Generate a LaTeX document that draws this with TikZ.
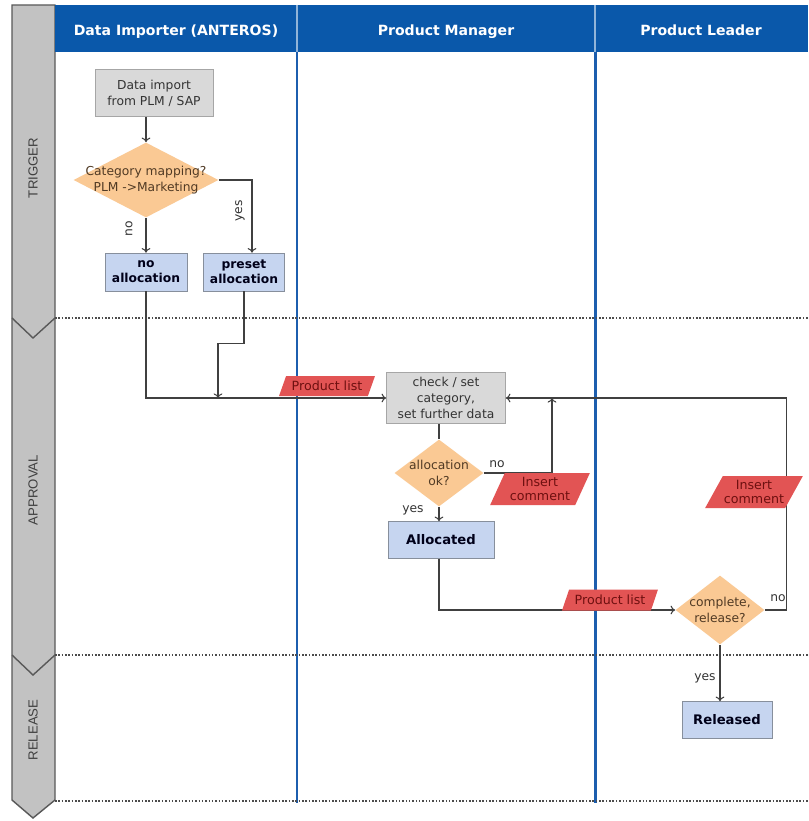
\documentclass[tikz,border=0pt]{standalone}
\usepackage{fontspec}
\setmainfont{DejaVu Sans}
\newfontfamily\fasefont{Liberation Sans}
\usepackage{tikz}
\usetikzlibrary{arrows,arrows.meta,shapes.geometric}

\definecolor{cabecera}{RGB}{10,88,170}
\definecolor{carril}{RGB}{28,94,174}
\definecolor{grisfase}{RGB}{194,194,194}
\definecolor{grisproc}{RGB}{217,217,217}
\definecolor{azulres}{RGB}{198,213,240}
\definecolor{naranja}{RGB}{250,201,148}
\definecolor{rojodato}{RGB}{226,84,84}
\definecolor{textorojo}{RGB}{110,16,16}
\definecolor{textonaranja}{RGB}{80,58,36}

\tikzset{
  procbox/.style={draw=black!35, fill=grisproc, text=black!80, align=center,
    font=\fontsize{7}{9}\selectfont, inner sep=1pt},
  resbox/.style={draw=black!30!azulres!70!gray, fill=azulres, text=black!90!blue, align=center,
    font=\bfseries\fontsize{7}{8.5}\selectfont, inner sep=1pt},
  decision/.style={diamond, fill=naranja, inner sep=0pt,
    label={[align=center, text=textonaranja, font=\fontsize{7}{9}\selectfont]center:#1}},
  datos/.style={trapezium, trapezium left angle=58, trapezium right angle=122,
    trapezium stretches=true, fill=rojodato, text=textorojo, align=center,
    inner sep=0pt, font=\fontsize{7.2}{8}\selectfont},
  flujo/.style={-{To[length=2.6pt,width=5pt]}, draw=black!75, line width=0.6pt},
  rotulo/.style={text=black!80, font=\fontsize{7}{8}\selectfont},
  titulo/.style={text=white, font=\bfseries\fontsize{8}{9}\selectfont,
    text height=1.6ex, text depth=0.4ex},
  fase/.style={text=black!75, font=\fasefont\fontsize{7.5}{9}\selectfont, rotate=90},
}

\begin{document}
\begin{tikzpicture}[x=0.02cm, y=-0.02cm]
%marco de la figura
\fill[white] (0,0) rectangle (808,821);
\useasboundingbox (0,0) rectangle (808,821);

%barra de fases a la izquierda
\draw[draw=black!65, fill=grisfase, line width=0.8pt] (12,5) -- (55,5) -- (55,800) -- (33,818) -- (12,800) -- cycle;
\draw[draw=black!65, line width=0.8pt] (12,318) -- (33,338) -- (55,318);
\draw[draw=black!65, line width=0.8pt] (12,655) -- (33,675) -- (55,655);
\node[fase] (trigger) at (33,168) {TRIGGER};
\node[fase] (approval) at (33,490) {APPROVAL};
\node[fase] (release) at (33,730) {RELEASE};

%cabecera azul con los carriles
\fill[cabecera] (55,5) rectangle (808,52);
\draw[white!55!cabecera, line width=0.6pt] (297,5) -- (297,52);
\draw[white!55!cabecera, line width=0.6pt] (595,5) -- (595,52);
\node[titulo] (timport) at (176,30) {Data Importer (ANTEROS)};
\node[titulo] (tmanager) at (446,30) {Product Manager};
\node[titulo] (tleader) at (701,30) {Product Leader};

%lineas de los carriles
\draw[carril, line width=1.7pt] (297,52) -- (297,803);
\draw[carril, line width=1.7pt] (595,52) -- (595,803);

%lineas punteadas entre fases
\foreach \y in {318,655,801}
  \draw[densely dotted, black!70, line width=0.9pt] (55,\y) -- (808,\y);

%nodos del primer carril
\node[procbox, minimum width=2.36cm, minimum height=0.94cm] (imp) at (154,93) {Data import\\from PLM / SAP};
\node[decision={Category mapping?\\PLM ->Marketing}, minimum width=2.9cm, minimum height=1.5cm] (mapq) at (146,180) {};
\node[resbox, minimum width=1.64cm, minimum height=0.76cm] (noalloc) at (146,272) {no\\allocation};
\node[resbox, minimum width=1.62cm, minimum height=0.76cm] (presetalloc) at (244,272) {preset\\allocation};

%nodos del segundo carril
\node[procbox, minimum width=2.38cm, minimum height=1.02cm] (check) at (446,398) {check / set\\category,\\set further data};
\node[decision={allocation\\ok?}, minimum width=1.78cm, minimum height=1.34cm] (okq) at (439,473) {};
\node[resbox, minimum width=2.12cm, minimum height=0.74cm, font=\bfseries\fontsize{7.5}{9}\selectfont] (allocd) at (441,540) {Allocated};

%nodos del tercer carril
\node[decision={complete,\\release?}, minimum width=1.78cm, minimum height=1.38cm] (relq) at (720,610) {};
\node[resbox, minimum width=1.8cm, minimum height=0.74cm, font=\bfseries\fontsize{7.5}{9}\selectfont] (released) at (727,720) {Released};

%puntos de union
\coordinate (union) at (218,0);
\coordinate (retorno) at (552,0);

%flechas
\draw[flujo] (imp.south -| mapq.north) -- (mapq.north);
\draw[flujo] (mapq.south) -- (noalloc.north);
\draw[flujo] (mapq.east) -| (presetalloc.north -| 252,0);
\draw[flujo] (noalloc.south) |- (check.west);
\draw[flujo] (presetalloc.south) -- ++(0,52) -| (union |- check.west);
\draw[draw=black!75, line width=0.6pt] (check.south -| okq.north) -- (okq.north);
\draw[flujo] (okq.east) -| (retorno |- check.east);
\draw[flujo] (okq.south) -- (allocd.north -| okq.south);
\draw[flujo] (allocd.south -| okq.south) |- (relq.west);
\draw[flujo] (relq.east) -- ++(22,0) |- (check.east);
\draw[flujo] (relq.south) -- (relq.south |- released.north);

%rotulos de las flechas
\node[rotulo, rotate=90] (nomap) at (129,229) {no};
\node[rotulo, rotate=90] (yesmap) at (240,211) {yes};
\node[rotulo] (nook) at (497,464) {no};
\node[rotulo] (yesok) at (413,510) {yes};
\node[rotulo] (norel) at (778,598) {no};
\node[rotulo] (yesrel) at (705,678) {yes};

%datos en rojo
\node[datos, minimum width=1.92cm, minimum height=0.4cm] (plist1) at (327,386) {Product list};
\node[datos, minimum width=2.0cm, minimum height=0.64cm, trapezium left angle=62, trapezium right angle=118] (icom1) at (540,489) {Insert\\comment};
\node[datos, minimum width=1.92cm, minimum height=0.42cm] (plist2) at (610,600) {Product list};
\node[datos, minimum width=1.96cm, minimum height=0.64cm, trapezium left angle=54, trapezium right angle=126] (icom2) at (754,492) {Insert\\comment};
\end{tikzpicture}
\end{document}
